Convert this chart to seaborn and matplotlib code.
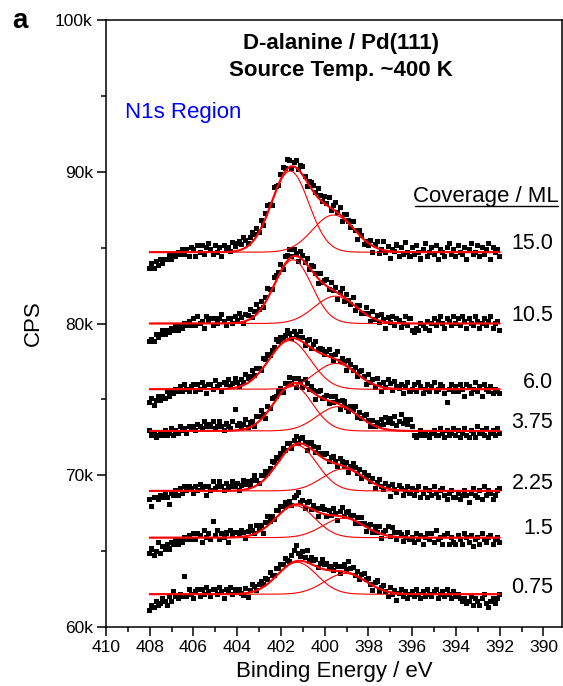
import numpy as np
import pandas as pd
import matplotlib
matplotlib.use("Agg")
import matplotlib.pyplot as plt
import seaborn as sns
from matplotlib.ticker import MultipleLocator, FuncFormatter

# ---------------- data ----------------
coverages = ["15.0", "10.5", "6.0", "3.75", "2.25", "1.5", "0.75"]
label_y = [85250, 80550, 76120, 73470, 69480, 66490, 62620]
baseline = [84700, 80000, 75670, 72920, 68970, 65890, 62160]
peak1_center = [401.58, 401.45, 401.60, 401.45, 401.26, 401.35, 401.26]
peak1_height = [5350, 4200, 3200, 3000, 3000, 2100, 2100]
peak1_sigma = [0.85, 0.85, 0.95, 0.88, 0.90, 0.90, 0.90]
peak2_center = [399.60, 399.52, 399.50, 399.40, 399.15, 399.15, 399.06]
peak2_height = [2450, 1800, 1700, 1600, 1450, 1280, 1370]
peak2_sigma = [0.95, 0.95, 0.95, 0.95, 0.95, 0.95, 0.95]

# scatter of measured points about the fit, units of 150 CPS, 408 eV -> 392 eV in 0.1 eV steps
resid_15_0 = [-7, -5, -7, -4, -6, -3, -5, -3, -3, -1, -3, -1, -2, 0, -1, 1, -1, 1, -2, 2,
              1, -2, 3, 0, 3, -1, 2, 4, 1, -1, 3, 0, 2, -2, 3, 1, 2, 0, 4, 2,
              3, 4, 2, 5, 3, 1, 3, 4, 2, 3, 0, 3, -1, 2, 3, 1, -2, 3, 1, -1,
              2, 3, 1, 4, 3, -1, 2, 3, 0, 3, 4, 1, -2, 2, 3, 3, 1, 4, 2, 0,
              3, 1, 4, -1, 2, 4, 0, 3, -2, 2, 3, 1, -1, 3, 0, -3, 2, 1, -2, 0,
              -1, 2, -3, 1, 3, -2, 0, 4, -1, 2, -3, 1, 0, 3, -2, 2, -1, 4, 0, -2,
              2, -1, 3, 0, -3, 1, 4, -2, 0, 2, -1, 3, -3, 1, 0, -2, 2, 4, -1, 1,
              -2, 3, 0, -1, 2, -3, 1, 4, -1, 0, 3, -2, 2, -1, 1, 4, -3, 2, 0, 1,
              -2]
resid_10_5 = [-8, -7, -8, -5, -6, -5, -3, -5, -3, -4, -2, -3, -1, -3, -1, -2, 0, -1, 1, -1,
              2, -1, 3, 0, 1, -2, 3, 1, 2, -1, 2, 0, 2, 4, 1, -1, 2, 2, 0, 3,
              1, 4, 2, -1, 3, 2, 4, 0, 2, 4, 1, 3, -1, 2, 4, 2, 0, 3, 2, 1,
              3, -1, 3, 2, 4, 0, 3, 1, -2, 3, 2, 0, 3, -1, 2, 3, 1, -2, 3, 0,
              2, 3, -1, 3, 0, 2, -3, 1, 3, -2, 2, 0, -1, 3, -2, 1, 2, -1, 0, 3,
              1, -2, 3, 0, 2, -1, 3, 1, -3, 2, 0, 3, -1, 2, 1, -2, 0, 3, -1, 2,
              -3, -4, -2, -3, 0, -1, -2, 1, -3, 0, 2, -1, 1, 3, 0, -2, 2, 1, -1, 3,
              0, 2, -1, 3, 1, -2, 2, 0, -1, 3, 1, -2, 0, 2, -1, 1, 3, -2, 0, 1,
              -3]
resid_6_0 = [-6, -4, -7, -5, -3, -5, -3, -4, -1, -3, -1, -2, 0, -1, 1, -1, 2, 0, -1, 1,
             2, -1, 2, 0, 3, 1, -2, 2, 2, 0, 4, 1, 2, -1, 3, 2, 4, 1, 2, 4,
             2, 0, 3, 1, 4, 2, 2, 4, 1, 3, 2, 0, 4, 2, 3, 1, 2, 2, 4, 2,
             3, 1, 2, 4, 2, 0, 3, 2, 1, 4, 2, -1, 2, 3, 0, 2, 4, 1, 2, 2,
             0, 2, 3, 1, -1, 2, 4, 0, 2, 1, -2, 3, 2, 0, 2, -1, 2, 3, 1, -2,
             3, 0, 2, -1, 3, 1, -2, 2, 0, 4, 2, -1, 3, 1, 0, 2, -2, 1, 3, -1,
             0, 2, -1, 3, 1, -2, 0, 2, -1, 1, 3, -1, 0, 2, 1, -2, -6, 0, 2, -1,
             1, -1, 2, 0, -3, 2, 1, -2, 0, 3, -1, 1, -3, 2, 0, -1, 1, -2, 0, -1,
             -2]
resid_3_75 = [0, -2, -1, -3, -2, -1, -2, 0, -2, -1, 1, -2, 0, -1, 2, 0, 1, -1, 2, 1,
              2, 0, 3, 2, 1, 4, 2, 3, 2, 4, 1, 2, 4, 2, 0, 3, 2, 1, 4, 9,
              2, 3, 1, 2, 4, 0, 2, 2, -1, 3, 2, 4, 1, -2, 2, 0, 3, 2, 1, 2,
              2, -1, 2, 1, 3, 0, 2, -2, 2, 1, -1, 3, 2, 0, 2, 1, -2, 2, 3, 0,
              1, 2, -1, 2, 0, 3, 1, -2, 2, 2, 0, -1, 2, 1, 3, -1, 2, 0, 2, 3,
              1, -1, 2, 0, 2, 1, 4, 2, 5, 3, 5, 3, 6, 2, 4, 7, 3, 5, 3, 5,
              2, -2, -3, -2, 0, -2, -1, -2, -3, -1, 0, -2, -2, 1, -1, -3, 0, -2, -1, 1,
              -2, 0, -3, -1, 1, -2, -3, 0, -1, -3, 2, -1, 0, -2, 1, -3, -1, 0, -2, 1,
              -1]
resid_2_25 = [-4, -7, -3, -3, -4, -2, -3, -1, -3, -6, -1, -2, 0, -2, 1, -1, 2, 0, 2, 1,
              -1, 2, 0, 3, 1, 2, -2, 2, 0, 4, 1, 2, 4, 2, 0, 3, 1, 2, 4, 2,
              3, 0, 2, 4, 2, 3, 1, 3, 5, 2, 0, 3, 2, 3, 1, 2, 4, 2, 3, 1,
              2, 3, 1, 3, 2, -1, 2, 3, 0, 2, 3, 1, -2, 2, 3, 2, 0, 3, 1, 2,
              2, 3, 0, 2, 3, 1, -1, 3, 2, 0, 2, -2, 1, 3, 2, 0, 2, -1, 2, 1,
              2, 0, 2, -2, 1, 3, 0, -1, 2, 1, -3, 2, 0, -1, 2, 1, -2, 0, 2, -1,
              1, -2, 0, 2, -3, -1, 1, -3, 0, -2, 2, -1, -3, 0, 1, -2, -4, -1, 0, -3,
              -3, -1, -4, -2, 0, -2, -5, -1, 1, -2, -3, 0, -4, 2, -2, 0, -1, -4, -2, 0,
              1]
resid_1_5 = [-7, -5, -8, -6, -2, -7, -4, -5, -3, -5, -2, -3, -1, -3, -1, -2, 0, -1, 1, -1,
             2, -1, 2, 1, -2, 3, 0, 2, -1, 7, 1, 3, -1, 2, 0, 2, -2, 3, 1, 2,
             2, 1, 3, 2, -1, 2, 4, 2, 0, 3, 1, 2, -2, 2, 4, 1, 2, 0, 3, 2,
             3, 2, 3, 1, 2, 0, 3, 4, 5, 1, 2, -1, 2, 3, 0, 2, 1, -2, 2, 3,
             2, -1, 2, 0, 3, 1, -2, 2, 4, 0, 2, 3, 1, 2, -1, 2, 0, 3, 1, -2,
             1, 2, -1, 2, 0, 3, -2, 1, 2, 4, 0, 4, 2, -1, 2, 1, -2, 0, 2, -1,
             0, -2, 2, -1, 1, -3, 0, 2, -1, 2, -2, 3, -1, 0, -3, 1, 2, -3, 0, -2,
             -3, 1, -1, -3, 2, 0, -2, 1, -4, -1, 0, -3, 2, -1, -2, 0, 1, -3, -1, 0,
             -2]
resid_0_75 = [-7, -5, -6, -3, -5, -4, -2, -3, -5, -1, -3, 1, -1, -2, 0, -1, 8, -1, 2, 0,
              -2, 1, 2, -1, 2, 0, 3, 1, -1, 2, 2, 0, 3, 1, -2, 2, 1, 3, 0, 2,
              1, 2, 0, -1, 2, -2, 1, 3, 2, 0, 2, 3, 1, 3, 2, 4, 2, 1, 3, 2,
              3, 2, 4, 2, 1, 3, 5, 7, 3, 2, 4, 2, 5, 1, 3, 2, 3, 0, 2, 4,
              2, 3, 1, 2, 0, 3, 2, -1, 2, 3, 1, 5, 2, 3, 0, 2, -1, 2, 3, 1,
              2, 0, -2, 2, 3, -1, 1, 2, 0, -2, 2, -1, 1, -3, 0, 2, -1, 1, -2, 0,
              1, -1, 2, 0, -2, 1, -1, 2, 0, -1, 1, 2, -2, 0, 1, -1, 2, 0, -2, 1,
              -1, 0, -2, -3, -2, -4, -3, -1, -5, -2, -3, -5, -2, 0, -4, -6, -3, -2, -4, -2,
              0]
residuals = [resid_15_0, resid_10_5, resid_6_0, resid_3_75, resid_2_25, resid_1_5, resid_0_75]

x_ticks = [410, 408, 406, 404, 402, 400, 398, 396, 394, 392, 390]
y_ticks = [60000, 70000, 80000, 90000, 100000]


def gauss(x, c, h, s):
    return h * np.exp(-(x - c) ** 2 / (2 * s ** 2))


# ---------------- build tables ----------------
pts_rows, fit_rows = [], []
x_fit = np.linspace(408, 392, 401)
for i, cov in enumerate(coverages):
    res = np.array(residuals[i], dtype=float) * 150
    x_pts = 408 - 0.1 * np.arange(len(res))
    g1p = gauss(x_pts, peak1_center[i], peak1_height[i], peak1_sigma[i])
    g2p = gauss(x_pts, peak2_center[i], peak2_height[i], peak2_sigma[i])
    y_pts = baseline[i] + g1p + g2p + res
    for xx, yy in zip(x_pts, y_pts):
        pts_rows.append({"BE": xx, "CPS": yy, "coverage": cov})
    g1 = gauss(x_fit, peak1_center[i], peak1_height[i], peak1_sigma[i])
    g2 = gauss(x_fit, peak2_center[i], peak2_height[i], peak2_sigma[i])
    for comp, yy in (("p1", baseline[i] + g1), ("p2", baseline[i] + g2),
                     ("sum", baseline[i] + g1 + g2)):
        for xx, yv in zip(x_fit, yy):
            fit_rows.append({"BE": xx, "CPS": yv, "coverage": cov, "comp": comp})

pts = pd.DataFrame(pts_rows)
fits = pd.DataFrame(fit_rows)

# ---------------- plot ----------------
sns.set_style("ticks")
plt.rcParams["font.family"] = ["Liberation Sans", "DejaVu Sans"]
plt.rcParams["text.color"] = "black"
plt.rcParams["axes.labelcolor"] = "black"
plt.rcParams["xtick.color"] = "black"
plt.rcParams["ytick.color"] = "black"
plt.rcParams["axes.edgecolor"] = "black"

fig = plt.figure(figsize=(5.63, 6.86), dpi=100)
ax = fig.add_axes([106 / 563, 1 - 627 / 686, 456 / 563, 607 / 686])

for cov in coverages:
    for comp, lw in (("p1", 0.8), ("p2", 0.8), ("sum", 1.5)):
        sub = fits[(fits.coverage == cov) & (fits.comp == comp)]
        sns.lineplot(data=sub, x="BE", y="CPS", color="red", lw=lw, ax=ax,
                     sort=False, estimator=None, legend=False, zorder=3)

sns.scatterplot(data=pts, x="BE", y="CPS", hue="coverage",
                palette=["black"] * len(coverages), marker="s", s=13,
                linewidth=0, legend=False, ax=ax, zorder=2)

ax.set_xlim(410, 389.15)
ax.set_ylim(60000, 100000)
ax.set_xticks(x_ticks)
ax.set_yticks(y_ticks)
ax.xaxis.set_minor_locator(MultipleLocator(1))
ax.yaxis.set_minor_locator(MultipleLocator(5000))
ax.yaxis.set_major_formatter(FuncFormatter(lambda v, p: f"{v / 1000:.0f}k"))
ax.tick_params(which="major", direction="out", length=6.5, width=1.1,
               labelsize=12.5, pad=3, top=False, right=False,
               color="black", labelcolor="black")
ax.tick_params(which="minor", direction="out", length=3.5, width=1.1,
               top=False, right=False, color="black")
for sp in ax.spines.values():
    sp.set_visible(True)
    sp.set_linewidth(1.1)
    sp.set_color("black")

ax.set_xlabel("Binding Energy / eV", fontsize=16, labelpad=4, color="black")
ax.set_ylabel("CPS", fontsize=16, labelpad=8, color="black")

ax.text(0.515, 0.962, "D-alanine / Pd(111)", transform=ax.transAxes,
        ha="center", va="center", fontsize=16, fontweight="bold", color="black")
ax.text(0.515, 0.916, "Source Temp. ~400 K", transform=ax.transAxes,
        ha="center", va="center", fontsize=16, fontweight="bold", color="black")
ax.text(0.042, 0.848, "N1s Region", transform=ax.transAxes,
        ha="left", va="center", fontsize=16, color="#0000ff")
ax.text(0.992, 0.709, "Coverage / ML", transform=ax.transAxes,
        ha="right", va="center", fontsize=16, color="black")
ax.plot([0.678, 0.992], [0.6935, 0.6935], transform=ax.transAxes,
        color="black", lw=1.0)

for cov, ly in zip(coverages, label_y):
    ax.text(389.55, ly, cov, ha="right", va="center", fontsize=15.5, color="black")

fig.text(12 / 563, 1 - 21 / 686, "a", ha="left", va="center",
         fontsize=20, fontweight="bold", color="black")

fig.savefig("out.png", dpi=100)
